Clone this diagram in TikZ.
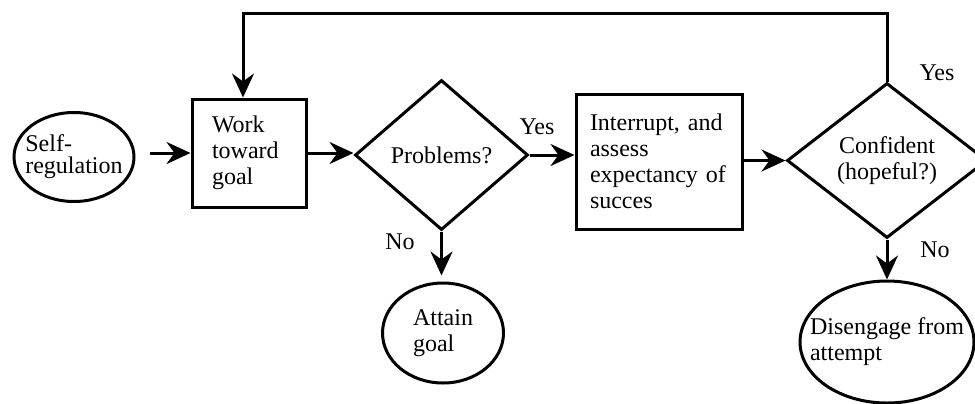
\documentclass[tikz,border=0pt]{standalone}
\usepackage{fontspec}
\setmainfont{Liberation Serif}
\usetikzlibrary{shapes,arrows.meta,calc}

\begin{document}
\begin{tikzpicture}[x=0.5pt,y=-0.5pt,line width=1.5pt,
	font=\fontsize{12}{13}\selectfont,
	box/.style={draw,rectangle,align=left,inner ysep=0pt},
	dia/.style={draw,diamond,align=center,inner sep=2pt},
	ell/.style={draw,ellipse,align=left},
	arr/.style={-{Stealth[length=12pt,width=11pt,inset=4pt]}},
	lab/.style={inner sep=0pt}]
\useasboundingbox (0,0) rectangle (975,403);
\node[ell,inner xsep=-5pt,minimum width=60pt,minimum height=44.5pt,font=\fontsize{12}{11}\selectfont] (self) at (74,157) {Self-\\regulation};
\node[box,minimum width=57pt,minimum height=54pt,text width=37pt,inner xsep=10pt] (work) at (249,153) {Work\\toward\\goal};
\node[dia,aspect=1.15,minimum width=86.5pt,minimum height=75pt] (prob) at (441.5,155) {Problems?};
\node[box,minimum width=83pt,minimum height=67.5pt,text width=69pt,inner xsep=7pt] (intr) at (659,161.5) {Interrupt, and\\assess\\expectancy of\\succes};
\node[dia,aspect=1.29,minimum width=100pt,minimum height=77.5pt] (conf) at (887,160.5) {Confident\\(hopeful?)};
\node[ell,minimum width=60.5pt,minimum height=50pt] (attain) at (443,333) {Attain\\goal};
\node[ell,inner xsep=-8pt,minimum width=87pt,minimum height=61pt] (dis) at (887,342) {Disengage from\\attempt};
\node[lab] (yesp) at (537,127) {Yes};
\node[lab] (nop) at (400,242) {No};
\node[lab] (yesc) at (937,73) {Yes};
\node[lab] (noc) at (935,250) {No};
\coordinate (looptop) at (243,13);
\draw[arr,shorten <=7pt] (self.east |- work.west) -- (work.west);
\draw[arr] (work.east) -- (work.east -| prob.west);
\draw[arr] (prob.east) -- (prob.east -| intr.west);
\draw[arr] (intr.east |- conf.west) -- (conf.west);
\draw[arr,shorten >=3pt] (prob.south) -- (prob.south |- attain.north);
\draw[arr] (conf.south) -- (dis.north);
\draw[arr] (conf.north) |- (looptop) -- (looptop |- work.north);
\end{tikzpicture}
\end{document}
